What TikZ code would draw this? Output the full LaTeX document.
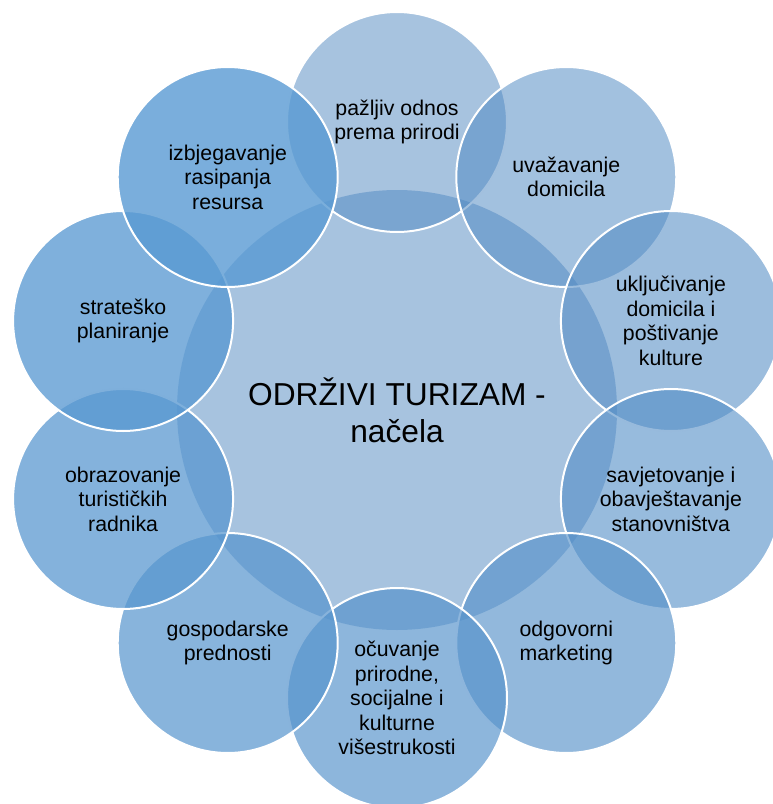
\documentclass[tikz,border=0pt]{standalone}
\usepackage{fontspec}
\setmainfont{Liberation Sans}
\definecolor{ringlight}{RGB}{79,135,192}
\definecolor{ringdark}{RGB}{89,154,211}

\begin{document}
\begin{tikzpicture}[x=1pt, y=1pt, inner sep=0, outer sep=0,
    petal/.style={circle, draw=white, line width=2pt,
      minimum size=220pt, align=center, text opacity=1,
      font=\fontsize{21.3}{24.5}\selectfont}]
  \useasboundingbox (-397,-394) rectangle (376,410);

  \node[circle, fill=ringlight, fill opacity=0.5, text opacity=1,
    minimum size=440pt, align=center,
    font=\fontsize{31.7}{37}\selectfont] (centre) at (0, 0) {ODRŽIVI TURIZAM -\\načela};

  % ring, clockwise from the top
  \node[petal, fill=ringdark!0!ringlight,   fill opacity=0.50] (nature)    at (90:288)   {pažljiv odnos\\prema prirodi};
  \node[petal, fill=ringdark!11!ringlight,  fill opacity=0.53] (domicile)  at (54:288)   {uvažavanje\\domicila};
  \node[petal, fill=ringdark!22!ringlight,  fill opacity=0.57] (include)   at (18:288)   {uključivanje\\domicila i\\poštivanje\\kulture};
  \node[petal, fill=ringdark!33!ringlight,  fill opacity=0.60] (inform)    at (-18:288)  {savjetovanje i\\obavještavanje\\stanovništva};
  \node[petal, fill=ringdark!44!ringlight,  fill opacity=0.63] (marketing) at (-54:288)  {odgovorni\\marketing};
  \node[petal, fill=ringdark!56!ringlight,  fill opacity=0.67] (diversity) at (-90:288)  {očuvanje\\prirodne,\\socijalne i\\kulturne\\višestrukosti};
  \node[petal, fill=ringdark!67!ringlight,  fill opacity=0.70] (economy)   at (-126:288) {gospodarske\\prednosti};
  \node[petal, fill=ringdark!78!ringlight,  fill opacity=0.73] (education) at (-162:288) {obrazovanje\\turističkih\\radnika};
  \node[petal, fill=ringdark!89!ringlight,  fill opacity=0.77] (planning)  at (162:288)  {strateško\\planiranje};
  \node[petal, fill=ringdark!100!ringlight, fill opacity=0.80] (resources) at (126:288)  {izbjegavanje\\rasipanja\\resursa};
\end{tikzpicture}
\end{document}
